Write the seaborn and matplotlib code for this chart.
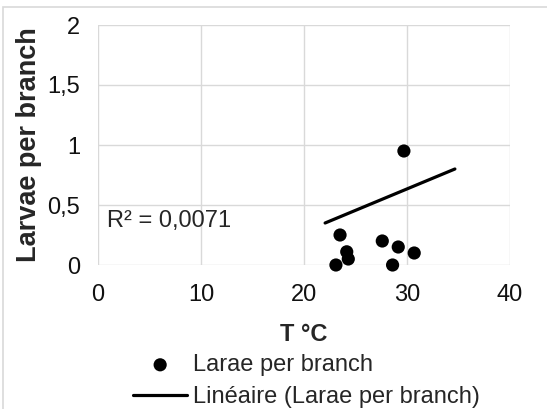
import matplotlib
matplotlib.use("Agg")
import matplotlib.pyplot as plt
import seaborn as sns
import pandas as pd
from matplotlib.patches import Rectangle

# Data
temp_c = [23.1, 23.5, 24.15, 24.3, 27.6, 28.6, 29.15, 29.7, 30.7]
larvae_per_branch = [0.0, 0.25, 0.11, 0.05, 0.20, 0.0, 0.15, 0.95, 0.10]
trend_x = [22.05, 34.65]
trend_y = [0.35, 0.80]
x_ticks = [0, 10, 20, 30, 40]
y_ticks = [0, 0.5, 1, 1.5, 2]
y_tick_labels = ["0", "0,5", "1", "1,5", "2"]
series_label = "Larae per branch"
trend_label = "Linéaire (Larae per branch)"
r2_text = "R² = 0,0071"

sns.set_style("white")
plt.rcParams['font.family'] = ['Liberation Sans', 'DejaVu Sans']

W, H = 547, 409
fig = plt.figure(figsize=(W / 100, H / 100), dpi=100)
ax = fig.add_axes([98 / W, 1 - 265 / H, (510 - 98) / W, (265 - 25) / H])

df = pd.DataFrame({"T": temp_c, "L": larvae_per_branch})
tdf = pd.DataFrame({"x": trend_x, "y": trend_y})

sns.lineplot(data=tdf, x="x", y="y", ax=ax, color="black", linewidth=2.3,
             label=trend_label, zorder=3)
sns.scatterplot(data=df, x="T", y="L", ax=ax, color="black", s=90,
                edgecolor="none", label=series_label, clip_on=False, zorder=4)

ax.set_xlim(0, 40)
ax.set_ylim(0, 2)
ax.set_xticks(x_ticks)
ax.set_yticks(y_ticks)
ax.set_yticklabels(y_tick_labels)
ax.grid(True, color="#d9d9d9", linewidth=1)
ax.set_axisbelow(True)
for sp in ax.spines.values():
    sp.set_visible(False)
ax.tick_params(length=0, labelsize=17, colors="#111111")
ax.tick_params(axis="y", pad=13)
ax.tick_params(axis="x", pad=14)

ax.set_xlabel("T °C", fontsize=17, fontweight="bold", labelpad=12)
ax.set_ylabel("Larvae per branch", fontsize=19.5, fontweight="bold", labelpad=4)

ax.text(0.9, 0.37, r2_text, fontsize=17, va="center", ha="left")

handles, labels = ax.get_legend_handles_labels()
order = [labels.index(series_label), labels.index(trend_label)]
leg = ax.get_legend()
if leg is not None:
    leg.remove()
fig.legend([handles[i] for i in order], [labels[i] for i in order],
           loc="upper left", bbox_to_anchor=(133 / W, 1 - 354 / H),
           frameon=False, fontsize=17, handlelength=2.3, handletextpad=0.25,
           borderpad=0, borderaxespad=0, labelspacing=0.43)

fig.patches.append(Rectangle((3 / W, -0.1), 1.2, 1.1 - 7 / H,
                             transform=fig.transFigure, fill=False,
                             edgecolor="#d9d9d9", linewidth=1.2))

fig.savefig("out.png", dpi=100)
